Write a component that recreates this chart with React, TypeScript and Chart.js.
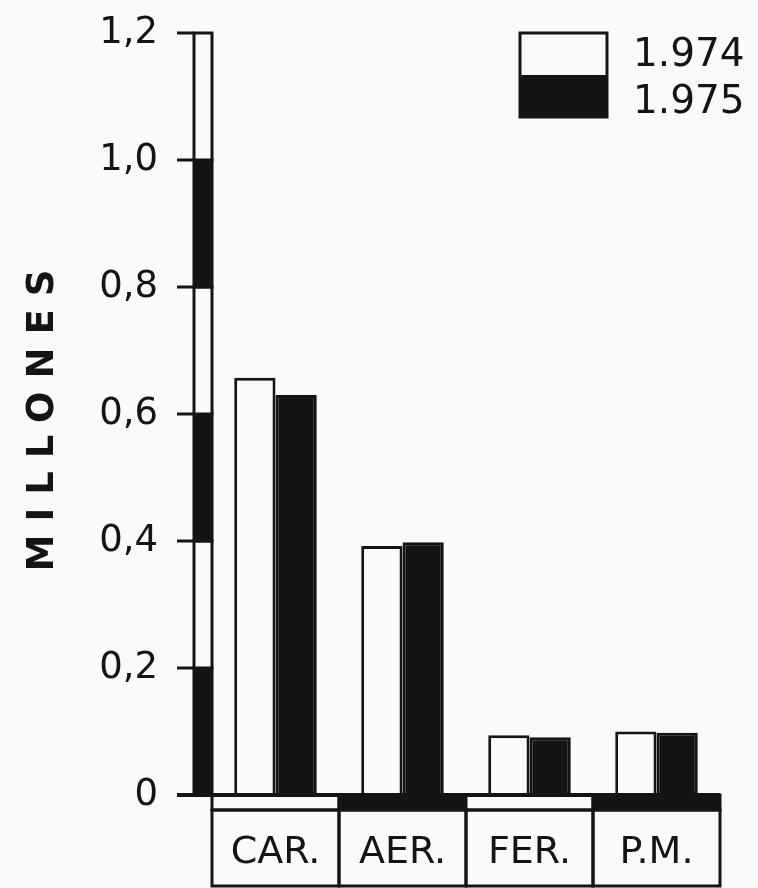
import { useEffect, useRef } from 'react';
import { Chart, registerables } from 'chart.js';

Chart.register(...registerables);

// ---- data ----
const categories = ['CAR.', 'AER.', 'FER.', 'P.M.'];
const series1974 = [0.657, 0.392, 0.094, 0.1];
const series1975 = [0.63, 0.398, 0.091, 0.098];
const seriesLabels = ['1.974', '1.975'];
const yTickValues = [0, 0.2, 0.4, 0.6, 0.8, 1.0, 1.2];
const yTickLabels = ['0', '0,2', '0,4', '0,6', '0,8', '1,0', '1,2'];
const yAxisTitle = 'MILLONES';

const INK = '#141414';
const PAPER = '#fafaf8';
const FONT = "'DejaVu Sans', sans-serif";

const decorPlugin = {
  id: 'decor',
  beforeDraw(chart: any) {
    const ctx = chart.ctx;
    ctx.save();
    ctx.fillStyle = PAPER;
    ctx.fillRect(0, 0, chart.width, chart.height);
    ctx.restore();
  },
  afterDraw(chart: any) {
    const ctx = chart.ctx;
    const ya = chart.scales.y;
    const xa = chart.scales.x;
    const area = chart.chartArea;
    ctx.save();
    ctx.strokeStyle = INK;
    ctx.lineWidth = 3;

    // y-axis band with alternating segments
    const bandW = 18;
    const xR = area.left;
    const xL = xR - bandW;
    for (let i = 0; i < yTickValues.length - 1; i++) {
      const yb = ya.getPixelForValue(yTickValues[i]);
      const yt = ya.getPixelForValue(yTickValues[i + 1]);
      ctx.fillStyle = i % 2 === 0 ? INK : PAPER;
      ctx.fillRect(xL, yt, bandW, yb - yt);
      ctx.strokeRect(xL, yt, bandW, yb - yt);
    }
    // tick marks
    yTickValues.forEach((v) => {
      const y = ya.getPixelForValue(v);
      ctx.beginPath();
      ctx.moveTo(xL - 17, y);
      ctx.lineTo(xL, y);
      ctx.stroke();
    });

    // category strip + label boxes
    const y0 = ya.getPixelForValue(0);
    const half = (xa.getPixelForValue(1) - xa.getPixelForValue(0)) / 2;
    const stripH = 15;
    categories.forEach((_, i) => {
      const cx = xa.getPixelForValue(i);
      const x0 = cx - half;
      ctx.fillStyle = i % 2 === 0 ? PAPER : INK;
      ctx.fillRect(x0, y0, 2 * half, stripH);
      ctx.strokeRect(x0, y0, 2 * half, stripH);
      ctx.strokeRect(x0, y0 + stripH, 2 * half, chart.height - (y0 + stripH) - 2);
    });

    // baseline
    ctx.lineWidth = 4;
    ctx.beginPath();
    ctx.moveTo(xL - 17, y0);
    ctx.lineTo(area.right, y0);
    ctx.stroke();

    // legend
    ctx.lineWidth = 3;
    const lx = area.right - 200;
    const ly = area.top;
    const lw = 87;
    const lh = 84;
    ctx.fillStyle = PAPER;
    ctx.fillRect(lx, ly, lw, lh / 2);
    ctx.fillStyle = INK;
    ctx.fillRect(lx, ly + lh / 2, lw, lh / 2);
    ctx.strokeRect(lx, ly, lw, lh);
    ctx.font = `39px ${FONT}`;
    ctx.textAlign = 'left';
    ctx.textBaseline = 'alphabetic';
    ctx.fillText(seriesLabels[0], lx + lw + 26, ly + 33);
    ctx.fillText(seriesLabels[1], lx + lw + 26, ly + 80);

    // y-axis title
    ctx.translate(43, (area.top + area.bottom) / 2 + 6);
    ctx.rotate(-Math.PI / 2);
    ctx.font = `bold 37px ${FONT}`;
    (ctx as any).letterSpacing = '13px';
    ctx.textAlign = 'center';
    ctx.textBaseline = 'middle';
    ctx.fillText(yAxisTitle, 6, 0);
    ctx.restore();
  },
};

export default function App() {
  const ref = useRef<HTMLCanvasElement | null>(null);

  useEffect(() => {
    document.body.style.margin = '0';
    if (!ref.current) return;
    const chart = new Chart(ref.current, {
      type: 'bar',
      data: {
        labels: categories,
        datasets: [
          {
            label: seriesLabels[0],
            data: series1974,
            backgroundColor: PAPER,
            borderColor: INK,
            borderWidth: 3,
            borderSkipped: 'bottom',
          },
          {
            label: seriesLabels[1],
            data: series1975,
            backgroundColor: INK,
            borderColor: INK,
            borderWidth: 3,
            borderSkipped: 'bottom',
          },
        ],
      },
      options: {
        responsive: false,
        animation: false,
        devicePixelRatio: 1,
        layout: { padding: { top: 33, right: 38, left: 0, bottom: 0 } },
        datasets: { bar: { categoryPercentage: 0.65, barPercentage: 1 } },
        plugins: {
          legend: { display: false },
          tooltip: { enabled: false },
        },
        scales: {
          x: {
            grid: { display: false },
            border: { display: false },
            ticks: {
              color: INK,
              font: { family: FONT, size: 38 },
              padding: 27,
              maxRotation: 0,
              autoSkip: false,
            },
            afterFit: (s: any) => {
              s.height = 93;
              s.paddingLeft = 0;
              s.paddingRight = 0;
            },
          },
          y: {
            min: 0,
            max: 1.2,
            grid: { display: false },
            border: { display: false },
            afterBuildTicks: (s: any) => {
              s.ticks = yTickValues.map((v) => ({ value: v }));
            },
            ticks: {
              color: INK,
              font: { family: FONT, size: 37 },
              padding: 46,
              callback: (_v: any, i: number) => yTickLabels[i],
            },
            afterFit: (s: any) => {
              s.width = 212;
              s.paddingTop = 0;
              s.paddingBottom = 0;
            },
          },
        },
      },
      plugins: [decorPlugin],
    });
    return () => chart.destroy();
  }, []);

  return (
    <div style={{ position: 'fixed', left: 0, top: 0, width: 758, height: 888 }}>
      <canvas ref={ref} width={758} height={888} />
    </div>
  );
}
